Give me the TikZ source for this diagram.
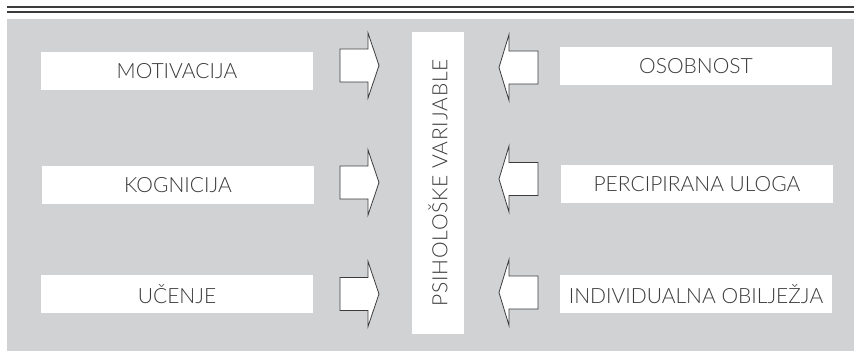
\documentclass[tikz,border=0pt]{standalone}
\usepackage{fontspec}
\setmainfont{Lato}[UprightFont=* Light]
\newfontfamily\widelato{Lato}[UprightFont=* Light, LetterSpace=3.8]
\definecolor{bg}{HTML}{D1D2D4}
\definecolor{edge}{HTML}{3C3C3C}
\definecolor{txt}{HTML}{3A3A3A}
\begin{document}
\begin{tikzpicture}[x=1pt,y=-1pt,
  lbl/.style={fill=white, inner sep=0pt, text=txt, minimum width=272pt, minimum height=38pt,
    font=\fontsize{21}{25}\selectfont},
  barrow/.style={draw=edge, fill=white, line width=0.8pt, line join=miter},
  rarr/.pic={\draw[barrow] (0,-16.5) -- (28,-16.5) -- (28,-32.5) -- (39,0) -- (28,32.5) -- (28,16.5) -- (0,16.5) -- cycle;},
  larr/.pic={\draw[barrow] (0,-16.5) -- (-29,-16.5) -- (-29,-33) -- (-39,0) -- (-29,33) -- (-29,16.5) -- (0,16.5) -- cycle;},
  rule/.style={draw=edge, line width=1.2pt}]
\useasboundingbox (0,0) rectangle (854,355);
\fill[bg] (7,19) rectangle (854,351);
\coordinate (r1a) at (7,7); \coordinate (r1b) at (854,7);
\coordinate (r2a) at (7,12); \coordinate (r2b) at (854,12);
\draw[rule] (r1a) -- (r1b);
\draw[rule] (r2a) -- (r2b);
% left boxes
\node[lbl] (mot) at (177,71) {MOTIVACIJA};
\node[lbl] (kog) at (178,185.5) {KOGNICIJA};
\node[lbl] (uce) at (177,294.5) {UČENJE};
% right boxes
\node[lbl] (oso) at (696,66) {OSOBNOST};
\node[lbl] (per) at (697,184) {PERCIPIRANA ULOGA};
\node[lbl] (ind) at (696,294.5) {INDIVIDUALNA OBILJEŽJA};
% central box
\node[fill=white, inner sep=0pt, text=txt, rotate=90, minimum width=302pt, minimum height=52pt,
  font=\widelato\fontsize{21}{25}\selectfont] (psi) at (438,183) {PSIHOLOŠKE VARIJABLE};
% arrows
\pic at (340,65.5) {rarr};
\pic at (340,182.5) {rarr};
\pic at (340,294) {rarr};
\pic at (538,67.5) {larr};
\pic at (538,179) {larr};
\pic at (538,292.5) {larr};
\end{tikzpicture}
\end{document}
